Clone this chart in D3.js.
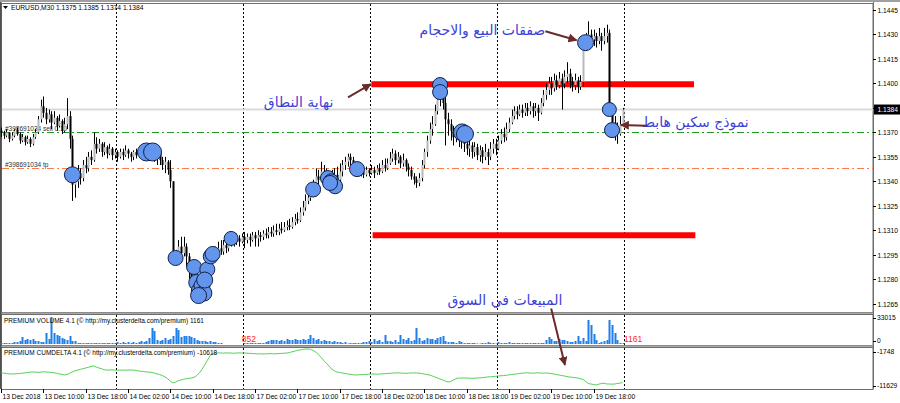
<!DOCTYPE html>
<html><head><meta charset="utf-8">
<script src="https://cdn.jsdelivr.net/npm/d3@7"></script>
<style>body{margin:0;background:#fff;overflow:hidden}svg{display:block}</style>
</head><body>
<svg id="c" width="900" height="403"></svg>
<script>
// ---------- DATA ----------
const symbolTitle = "EURUSD,M30  1.1375 1.1385 1.1374 1.1384";
const timeLabels = ["13 Dec 2018","13 Dec 10:00","13 Dec 18:00","14 Dec 02:00","14 Dec 10:00","14 Dec 18:00","17 Dec 02:00","17 Dec 10:00","17 Dec 18:00","18 Dec 02:00","18 Dec 10:00","18 Dec 18:00","19 Dec 02:00","19 Dec 10:00","19 Dec 18:00"];
const timeLabelIdx = [0,16,32,48,64,80,96,112,128,144,160,176,192,208,224];
const daySeparatorIdx = [44,92,140,188,236];
const priceTicks = [1.1445,1.1430,1.1415,1.1400,1.1385,1.1370,1.1355,1.1340,1.1325,1.1310,1.1295,1.1280,1.1265];
const pipBase = 1.12;           // prices below are pips above 1.1200
const firstOpen = 171;
const closePips = [170,168,170,166,168,171,169,165,167,164,166,163,167,170,178,186,182,178,181,176,179,174,177,171,175,180,166,138,140,145,142,150,148,155,153,163,160,163,158,161,157,160,156,158,155,158,156,159,157,155,158,156,159,157,160,158,156,159,155,157,153,150,152,147,140,92,95,100,96,100,94,86,80,76,72,78,84,88,86,92,96,94,99,97,101,99,103,104,103,105,103,106,104,106,104,107,105,107,106,108,107,109,108,110,109,111,110,112,113,112,115,117,116,121,124,128,130,134,138,143,141,146,144,139,142,139,144,141,146,150,152,155,153,150,147,145,146,144,147,145,147,145,148,146,150,148,151,154,157,153,155,151,153,149,147,143,141,139,142,150,158,165,172,175,183,190,194,188,178,175,171,167,170,166,168,163,160,162,158,161,156,159,155,158,155,160,163,160,165,169,167,172,176,180,183,181,184,182,185,183,186,183,185,182,188,193,196,200,197,202,199,203,200,204,206,201,199,202,198,201,223,226,230,227,229,226,229,226,229,231,185,176,172,169,175,184];
const highPips = [173,171,172,170,170,172,173,170,169,168,168,167,169,172,180,190,192,185,184,183,183,180,181,178,179,191,183,168,146,150,148,153,155,158,159,170,167,166,164,164,162,163,161,160,159,160,160,162,160,158,159,160,161,160,162,161,160,161,160,159,158,155,155,153,153,140,98,104,106,106,102,96,90,84,80,82,88,92,92,96,100,100,103,104,104,105,106,107,107,108,107,108,109,108,108,109,109,110,109,110,111,112,112,113,114,114,115,115,116,117,118,120,121,124,128,132,135,137,141,148,147,152,150,148,146,147,148,149,151,153,155,157,157,155,152,149,149,148,149,148,150,149,150,151,153,154,154,158,160,159,158,156,157,154,151,149,145,143,145,153,160,168,176,180,187,196,202,200,192,182,178,174,173,172,171,170,166,166,164,164,163,162,161,163,160,164,166,166,168,172,173,176,179,184,186,186,187,187,188,188,189,188,188,187,191,196,200,204,204,206,205,207,206,208,213,209,204,206,204,205,228,231,238,233,233,231,234,231,234,236,233,188,180,176,180,185];
const lowPips = [167,166,167,164,165,167,168,163,164,162,163,161,162,166,169,176,179,175,176,172,175,171,173,169,170,172,160,128,130,136,138,140,145,146,150,152,157,158,155,156,154,156,153,154,152,154,153,155,154,152,153,154,155,154,155,155,153,154,152,150,150,147,145,144,136,90,89,92,90,94,88,80,72,68,66,67,74,80,83,85,90,91,93,95,95,96,97,100,100,101,100,102,99,102,100,103,100,100,103,104,105,105,106,106,107,107,108,109,110,110,111,113,114,115,119,122,126,128,131,136,137,140,138,135,134,133,136,137,139,143,147,149,150,148,145,143,143,142,143,143,144,142,144,144,145,146,147,150,152,150,151,148,149,146,143,141,138,136,137,140,148,155,163,168,174,181,186,184,162,168,165,162,164,161,160,158,156,155,154,155,153,152,151,153,150,153,157,156,159,163,164,165,170,175,178,178,180,179,180,180,181,179,180,177,181,186,190,193,193,195,196,197,184,197,200,197,195,196,194,196,198,220,224,223,223,222,224,220,224,225,183,170,165,163,168,174];
const volume = [1220,1220,1220,1220,1220,2450,2450,
3670,8560,4890,6120,4890,6120,3670,3670,2450,2450,
13450,6120,33015,13450,11000,9780,7340,6120,4890,9780,3670,3670,
1220,1220,1220,1220,1220,1220,1220,1220,1220,1220,1220,1220,1220,1220,1220,
2450,1220,2450,1220,2450,1220,2450,1220,2450,3670,2450,
3670,7340,19570,15900,4890,3670,4890,7340,4890,6120,9780,19570,17120,8560,9780,
9780,9780,8560,7340,4890,3670,3670,3670,2450,3670,2450,2450,1220,1220,
0,0,0,0,0,0,0,0,
1220,1220,1220,1220,1220,1220,1220,1220,
2450,3670,4890,4890,4890,3670,4890,3670,6120,4890,4890,6120,4890,4890,6120,4890,6120,
11000,7340,4890,6120,3670,4890,3670,3670,2450,3670,2450,2450,1220,2450,
600,1220,1220,1220,1220,1220,2450,2450,3670,2450,
6120,3670,4890,2450,11000,3670,3670,2450,4890,2450,
11000,6120,4890,7340,3670,4890,19570,7340,3670,4890,
7340,6120,6120,4890,7340,8560,9780,3670,2450,
2450,2450,1220,3670,2450,1220,1220,1220,1220,1220,
600,600,1220,1220,2450,1220,1220,600,2450,1220,
1220,1220,2450,1220,1220,1220,1220,1220,1220,1220,
1220,1220,1220,1220,1220,1220,4890,8560,6120,3670,
3670,6120,4890,4890,3670,2450,2450,3670,9780,3670,
7340,3670,29350,23240,12230,4890,1220,2450,3670,4890,
29350,23240,13450,4890,1220,1161];
const cumDelta = [-7850,-7900,-8000,-8100,-8150,-8100,-8050,
-8000,-7900,-7800,-7700,-7600,-7550,-7600,
-7650,-7600,-7500,-7560,-7600,-7700,
-7800,-7900,-8100,-8250,-8400,-8300,
-7900,-7500,-7200,-7000,
-6800,-6600,-6400,-6200,-6000,-5800,
-6100,-6400,-6600,-6900,-7000,
-7000,-6950,-7000,-7050,-7000,-7000,-7050,-7000,-6980,-7000,
-7100,-7270,-7350,-7450,-7560,-7600,
-7700,-7850,-8100,-8300,-8600,-9000,-9500,
-10200,-10750,-10500,
-10100,-9900,-9700,-9500,-9400,-9300,
-9100,-8600,-7800,-6800,
-5500,-4200,-2900,
-2100,-2050,-2000,-2040,-2080,-2000,-2050,-2039,-2100,-2050,-2000,-2060,-2039,
-2100,-2150,-2200,-2250,-2300,-2250,-2330,-2300,-2250,-2200,-2300,-2280,-2200,-2150,-2100,-2050,
-1900,-1700,-1500,-1300,-1167,
-1000,-880,-876,-950,
-1300,-1748,-2500,-3300,
-4200,-5000,-5800,-6700,
-7200,-7560,-7700,-7850,-7950,
-8100,-8250,-8350,-8432,-8400,-8350,
-8300,-8250,-8200,-8150,-8142,
-8200,-8142,-8100,-8050,-8000,-7950,
-7900,-7851,-7800,-7850,-7900,-7950,-7900,-7851,-7800,
-7851,-7900,-8000,-8142,-8300,
-8432,-8700,-9000,-9300,-9600,
-9885,-10200,-10466,-10300,
-9900,-9500,-9304,-9350,
-9300,-9304,-9350,-9400,-9350,-9304,
-9250,-9200,-9100,-9000,-8950,-8900,-8800,-8722,
-8650,-8600,-8500,-8400,-8300,-8200,-8100,-8000,
-7900,-7851,-7800,-7851,-7900,-7851,-7800,-7851,
-7900,-7851,-7900,-8000,-8150,-8300,
-8432,-8600,-8722,-8900,-9000,-9100,
-9200,-9304,-9500,-9700,
-10300,-10900,-11047,-11200,-11338,
-11100,-10900,-10800,-11047,-11047,
-11100,-11047,-10900,-10800,-10618];
const volumeAxis = [33015, 0];
const deltaAxis = [-1748, -11629];
const volumeTitle = "PREMIUM VOLUME 4.1 (\u00A9 http://my.clusterdelta.com/premium) 1161";
const deltaTitle = "PREMIUM CUMDELTA 4.1 (\u00A9 http://my.clusterdelta.com/premium) -10618";
const volumeMarks = [{idx:91, text:"852"}, {idx:235.5, text:"1161"}];
// trade markers
const markIdx   = [27,55,57.3,66,73,78,79.3,80,87,74,75,76,76.7,74.7,77,118,123.6,124.8,126.3,124.4,134.6,166,166,174.3,175.4,221,230,231];
const markPrice = [1.1344,1.1358,1.1358,1.1293,1.12875,1.1286,1.1294,1.12955,1.1305,1.1278,1.1273,1.1276,1.12715,1.1270,1.12795,1.1335,1.1342,1.1340,1.1337,1.1339,1.13475,1.1399,1.13947,1.1370,1.1369,1.1425,1.1384,1.13714];
const markR     = [8,9,9,7.5,7.5,7.5,7.5,7.5,7,8,8,8,8,8,8,7.5,7.5,7.5,7.5,7.5,7.5,7.5,7.5,8.5,8.5,8,7,7.5];
// horizontal levels
const bidPrice = 1.1384;
const slPrice = 1.1370;
const tpPrice = 1.1348;
const orderLabels = [{price:1.1370, text:"#398691034 sell 0.10"}, {price:1.1348, text:"#398691034 tp"}];
const rangeLines = [{price:1.13995, from:140, to:262}, {price:1.1307, from:140.5, to:262.5}];
// annotations (bar index / price coordinates)
const notes = [
  {text:"صفقات البيع والاحجام", i:182, p:1.1433, ax1:205.8, ap1:1.1432, ax2:217.6, ap2:1.14265},
  {text:"نهاية النطاق", i:112.5, p:1.13885, ax1:131.2, ap1:1.13915, ax2:139.8, ap2:1.13995},
  {text:"نموذج سكين هابط", i:262.5, p:1.13765, ax1:244, ap1:1.1374, ax2:234.3, ap2:1.13745}
];
const marketNote = {text:"المبيعات في السوق", i:190.5, p:1.12675, ax1:208, ap1:1.1262, ax2:213.2, delta:-5526};

// ---------- DRAW ----------
const svg = d3.select("#c");
const W = 900, H = 403, RIGHT = 873;
const main = {top:3, bottom:312}, vol = {top:314, bottom:345}, del = {top:347, bottom:389};
const x = d3.scaleLinear().domain([0,235]).range([1,622.6]);
const y = d3.scaleLinear().domain([1.1265,1.1445]).range([303.7,10]);
const yv = d3.scaleLinear().domain([0,33015]).range([344,317]);
const yd = d3.scaleLinear().domain([-11629,-1748]).range([386,352]);
const P = v => pipBase + v/10000;
const FONT = "'Liberation Sans', Arial, sans-serif";

svg.append("rect").attr("width",W).attr("height",H).attr("fill","#fff");
svg.append("rect").attr("x",0).attr("y",0).attr("width",W).attr("height",2).attr("fill","#a0a0a0");

// panel frames
[main, vol, del].forEach(p => {
  svg.append("rect").attr("x",1.5).attr("y",p.top+0.5).attr("width",RIGHT-1.5).attr("height",p.bottom-p.top)
    .attr("fill","none").attr("stroke","#6e6e6e").attr("stroke-width",1);
});
svg.append("rect").attr("x",0).attr("y",main.bottom+0.5).attr("width",RIGHT+1).attr("height",1.5).attr("fill","#a8a8a8");
svg.append("rect").attr("x",0).attr("y",vol.bottom+0.5).attr("width",RIGHT+1).attr("height",1.5).attr("fill","#a8a8a8");
svg.append("rect").attr("x",0).attr("y",2).attr("width",1.5).attr("height",del.bottom-2).attr("fill","#505050");

// day separators
daySeparatorIdx.forEach(d => {
  const xx = Math.round(x(d-0.5))+0.5;
  [main, vol, del].forEach(p => {
    svg.append("line").attr("x1",xx).attr("x2",xx).attr("y1",p.top+1).attr("y2",p.bottom)
      .attr("stroke","#000").attr("stroke-width",1).attr("stroke-dasharray","2,2");
  });
});

// horizontal level lines
svg.append("line").attr("x1",2).attr("x2",RIGHT).attr("y1",y(bidPrice)).attr("y2",y(bidPrice))
  .attr("stroke","#d9d9d9").attr("stroke-width",2);
svg.append("line").attr("x1",2).attr("x2",RIGHT).attr("y1",Math.round(y(slPrice))+0.5).attr("y2",Math.round(y(slPrice))+0.5)
  .attr("stroke","#1f9a1f").attr("stroke-width",1).attr("stroke-dasharray","7,3,2,3");
svg.append("line").attr("x1",2).attr("x2",RIGHT).attr("y1",Math.round(y(tpPrice))+0.5).attr("y2",Math.round(y(tpPrice))+0.5)
  .attr("stroke","#ff7a45").attr("stroke-width",1).attr("stroke-dasharray","7,3,2,3");
orderLabels.forEach(o => {
  svg.append("text").attr("x",5).attr("y",y(o.price)-1).attr("font-family",FONT).attr("font-size",6.5)
    .attr("fill","#303030").text(o.text);
});

// red range lines
rangeLines.forEach(r => {
  svg.append("line").attr("x1",x(r.from)).attr("x2",x(r.to)).attr("y1",y(r.price)).attr("y2",y(r.price))
    .attr("stroke","#ff0000").attr("stroke-width",6);
});

// candles
const bars = closePips.map((c,i) => ({i, o: i===0 ? firstOpen : closePips[i-1], c, h: highPips[i], l: lowPips[i]}));
const cg = svg.append("g");
bars.forEach(b => {
  const xx = Math.round(x(b.i)) + 0.5;
  const hi = Math.max(b.h, b.o, b.c), lo = Math.min(b.l, b.o, b.c);
  cg.append("line").attr("x1",xx).attr("x2",xx).attr("y1",y(P(hi))).attr("y2",y(P(lo)))
    .attr("stroke","#000").attr("stroke-width",1);
  const top = y(P(Math.max(b.o,b.c))), bot = y(P(Math.min(b.o,b.c)));
  const bull = b.c >= b.o;
  cg.append("rect").attr("x",xx-1).attr("y",top).attr("width",2).attr("height",Math.max(1,bot-top))
    .attr("fill", bull ? "#b8b8b8" : "#000");
});

// markers
const mg = svg.append("g");
markIdx.forEach((mi,k) => {
  mg.append("circle").attr("cx",x(mi)).attr("cy",y(markPrice[k])).attr("r",markR[k])
    .attr("fill","#6495ed").attr("stroke","#10224a").attr("stroke-width",1);
});

// volume
svg.append("g").selectAll("rect").data(volume).join("rect")
  .attr("x",(v,i)=>Math.round(x(i))-0.5).attr("width",2)
  .attr("y",v=>yv(v)).attr("height",v=>Math.max(0,yv(0)-yv(v)))
  .attr("fill","#1e7fe8");
volumeMarks.forEach(m => {
  svg.append("text").attr("x",x(m.idx)).attr("y",342).attr("font-family",FONT).attr("font-size",8.5)
    .attr("fill","#ff1f1f").text(m.text);
});

// cumdelta
svg.append("path").datum(cumDelta)
  .attr("d", d3.line().x((v,i)=>x(i)).y(v=>yd(v)))
  .attr("fill","none").attr("stroke","#55d055").attr("stroke-width",1);

// titles
svg.append("path").attr("d","M3,6 L8,6 L5.5,9 Z").attr("fill","#000");
svg.append("text").attr("x",11).attr("y",10).attr("font-family",FONT).attr("font-size",6.7).attr("fill","#000").text(symbolTitle);
svg.append("text").attr("x",4).attr("y",323).attr("font-family",FONT).attr("font-size",6.5).attr("fill","#000").text(volumeTitle);
svg.append("text").attr("x",4).attr("y",355).attr("font-family",FONT).attr("font-size",6.5).attr("fill","#000").text(deltaTitle);

// right price axis
const ax = svg.append("g");
ax.append("line").attr("x1",RIGHT+0.5).attr("x2",RIGHT+0.5).attr("y1",2).attr("y2",del.bottom).attr("stroke","#6e6e6e");
priceTicks.forEach(p => {
  const yy = Math.round(y(p))+0.5;
  ax.append("line").attr("x1",RIGHT).attr("x2",RIGHT+3).attr("y1",yy).attr("y2",yy).attr("stroke","#000");
  ax.append("text").attr("x",RIGHT+4.5).attr("y",yy+2.3).attr("font-family",FONT).attr("font-size",6.7).attr("fill","#000")
    .text(d3.format(".4f")(p));
});
// bid label
const by = y(bidPrice);
ax.append("rect").attr("x",RIGHT+1).attr("y",by-5).attr("width",W-RIGHT-1).attr("height",10).attr("fill","#000");
ax.append("text").attr("x",RIGHT+4.5).attr("y",by+2.3).attr("font-family",FONT).attr("font-size",6.7).attr("fill","#fff")
  .text(d3.format(".4f")(bidPrice));
// sub-window axes
[[yv(volumeAxis[0])+1, volumeAxis[0]],[yv(volumeAxis[1])-3, volumeAxis[1]],[yd(deltaAxis[0]), deltaAxis[0]],[yd(deltaAxis[1]), deltaAxis[1]]].forEach(([yy,v]) => {
  ax.append("line").attr("x1",RIGHT).attr("x2",RIGHT+3).attr("y1",Math.round(yy)+0.5).attr("y2",Math.round(yy)+0.5).attr("stroke","#000");
  ax.append("text").attr("x",RIGHT+4).attr("y",yy+2.3).attr("font-family",FONT).attr("font-size",6.7).attr("fill","#000").text(v);
});

// bottom time axis
timeLabelIdx.forEach((ti,k) => {
  const xx = Math.round(x(ti))+0.5;
  svg.append("line").attr("x1",xx).attr("x2",xx).attr("y1",del.bottom).attr("y2",del.bottom+4).attr("stroke","#000");
  svg.append("text").attr("x",xx+1).attr("y",399).attr("font-family",FONT).attr("font-size",6.7).attr("fill","#000").text(timeLabels[k]);
});

// annotations
const defs = svg.append("defs");
defs.append("marker").attr("id","ah").attr("viewBox","0 0 10 10").attr("refX",9).attr("refY",5)
  .attr("markerWidth",4.5).attr("markerHeight",4.5).attr("orient","auto")
  .append("path").attr("d","M0,0 L10,5 L0,10 Z").attr("fill","#6b2b2b");
const AR = "'DejaVu Sans', sans-serif";
notes.forEach(n => {
  svg.append("text").attr("x",x(n.i)).attr("y",y(n.p)+5).attr("text-anchor","middle").attr("direction","rtl")
    .attr("font-family",AR).attr("font-size",14).attr("fill","#3c3fd6").text(n.text);
  svg.append("line").attr("x1",x(n.ax1)).attr("y1",y(n.ap1)).attr("x2",x(n.ax2)).attr("y2",y(n.ap2))
    .attr("stroke","#6b2b2b").attr("stroke-width",2).attr("marker-end","url(#ah)");
});
svg.append("text").attr("x",x(marketNote.i)).attr("y",y(marketNote.p)+5).attr("text-anchor","middle").attr("direction","rtl")
  .attr("font-family",AR).attr("font-size",14).attr("fill","#3c3fd6").text(marketNote.text);
svg.append("line").attr("x1",x(marketNote.ax1)).attr("y1",y(marketNote.ap1)).attr("x2",x(marketNote.ax2)).attr("y2",yd(marketNote.delta))
  .attr("stroke","#6b2b2b").attr("stroke-width",2).attr("marker-end","url(#ah)");

// sanity
if (closePips.length!==236||highPips.length!==236||lowPips.length!==236||volume.length!==236||cumDelta.length!==236)
  console.error("length mismatch", closePips.length, highPips.length, lowPips.length, volume.length, cumDelta.length);
</script>
</body></html>
